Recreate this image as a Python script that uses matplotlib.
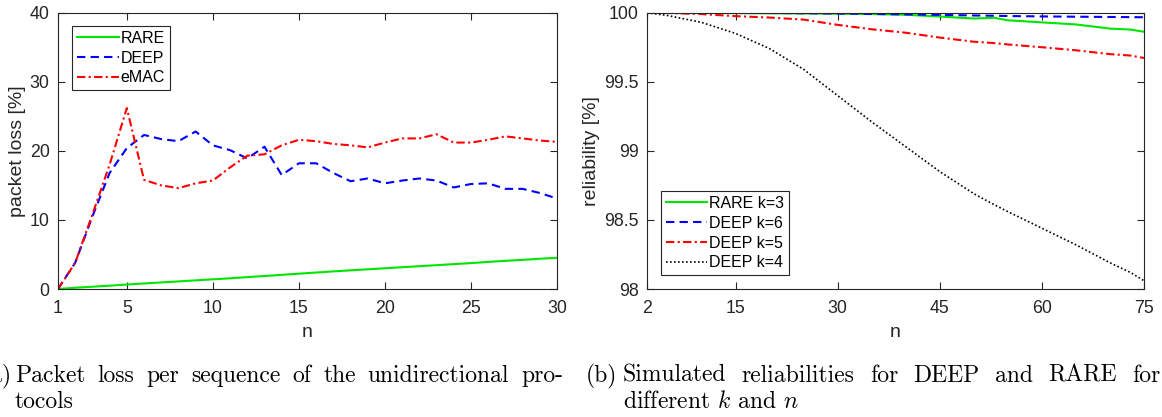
import matplotlib
matplotlib.use('Agg')
import matplotlib.pyplot as plt

plt.rcParams['font.family'] = ['Liberation Sans', 'DejaVu Sans']
plt.rcParams['mathtext.fontset'] = 'cm'
plt.rcParams['axes.unicode_minus'] = False

# ---- data: (a) packet loss per sequence ----
n_a = list(range(1, 31))
rare_a = [0, 0.18, 0.33, 0.48, 0.65, 0.8, 0.95, 1.1, 1.25, 1.4, 1.55, 1.72, 1.88, 2.05, 2.22,
          2.38, 2.55, 2.7, 2.85, 3.0, 3.15, 3.3, 3.45, 3.6, 3.75, 3.92, 4.08, 4.22, 4.38, 4.52]
deep_a = [0, 3.8, 10.5, 16.8, 20.4, 22.3, 21.7, 21.4, 22.8, 20.8, 20.1, 18.9, 20.6, 16.5, 18.2,
          18.2, 16.8, 15.6, 16.0, 15.3, 15.7, 16.0, 15.7, 14.7, 15.2, 15.3, 14.5, 14.5, 13.9, 13.1]
emac_a = [0, 3.8, 10.8, 18.0, 26.2, 15.8, 15.0, 14.6, 15.3, 15.7, 17.6, 19.3, 19.5, 20.8, 21.6,
          21.4, 21.0, 20.8, 20.5, 21.2, 21.8, 21.8, 22.4, 21.2, 21.2, 21.6, 22.1, 21.8, 21.5, 21.3]
labels_a = ['RARE', 'DEEP', 'eMAC']
xticks_a = [1, 5, 10, 15, 20, 25, 30]
yticks_a = [0, 10, 20, 30, 40]

# ---- data: (b) simulated reliabilities ----
n_b = [2, 5, 10, 15, 20, 25, 30, 35, 40, 45, 50, 53, 55, 60, 65, 70, 73, 75]
rare_k3 = [100, 100, 99.998, 99.997, 99.996, 99.995, 99.993, 99.99, 99.985, 99.972, 99.958,
           99.963, 99.945, 99.93, 99.915, 99.885, 99.878, 99.862]
deep_k6 = [100, 100, 100, 99.999, 99.998, 99.996, 99.994, 99.991, 99.988, 99.984, 99.98,
           99.978, 99.976, 99.973, 99.971, 99.969, 99.968, 99.967]
deep_k5 = [100, 99.998, 99.99, 99.975, 99.965, 99.95, 99.912, 99.88, 99.855, 99.82, 99.79,
           99.78, 99.77, 99.75, 99.728, 99.70, 99.69, 99.672]
deep_k4 = [100, 99.98, 99.93, 99.85, 99.74, 99.59, 99.40, 99.21, 99.03, 98.85, 98.69,
           98.61, 98.56, 98.44, 98.32, 98.19, 98.12, 98.06]
labels_b = ['RARE k=3', 'DEEP k=6', 'DEEP k=5', 'DEEP k=4']
xticks_b = [2, 15, 30, 45, 60, 75]
yticks_b = [98, 98.5, 99, 99.5, 100]
yticklabels_b = ['98', '98.5', '99', '99.5', '100']

GREEN, BLUE, RED, BLACK = '#00e600', '#0000ff', '#ff0000', '#000000'
AXC = '#262626'
DASH = (0, (4, 2.5))
DASHDOT = (0, (4, 1.6, 1, 1.6))
DOT = (0, (1, 1.4))
FS_TICK, FS_LABEL, FS_LEG = 12.8, 14, 11.5

W, H = 1162, 417
fig = plt.figure(figsize=(W / 100, H / 100), dpi=100)


def style_axes(ax):
    for s in ax.spines.values():
        s.set_color(AXC)
        s.set_linewidth(0.8)
    ax.tick_params(direction='in', length=5, width=0.8, colors=AXC, labelsize=FS_TICK,
                   top=True, right=True)
    ax.tick_params(axis='x', pad=8)
    ax.tick_params(axis='y', pad=6)


def legend(ax, anchor, loc):
    leg = ax.legend(loc=loc, bbox_to_anchor=anchor, borderaxespad=0,
                    fontsize=FS_LEG, handlelength=2.6, handletextpad=0.1, labelspacing=0.3,
                    borderpad=0.3, fancybox=False, framealpha=1, edgecolor=AXC)
    leg.get_frame().set_linewidth(0.8)


# ============ (a) ============
ax1 = fig.add_axes([58 / W, 1 - 289 / H, (557 - 58) / W, (289 - 12.7) / H])
ax1.plot(n_a, rare_a, color=GREEN, lw=1.5, label=labels_a[0])
ax1.plot(n_a, deep_a, color=BLUE, lw=1.5, linestyle=DASH, label=labels_a[1])
ax1.plot(n_a, emac_a, color=RED, lw=1.5, linestyle=DASHDOT, label=labels_a[2])
ax1.set_xlim(1, 30)
ax1.set_ylim(0, 40)
ax1.set_xticks(xticks_a)
ax1.set_yticks(yticks_a)
ax1.set_xlabel('n', fontsize=FS_LABEL, color=AXC, labelpad=5)
ax1.set_ylabel('packet loss [%]', fontsize=FS_LABEL, color=AXC, labelpad=3)
style_axes(ax1)
legend(ax1, (0.029, 0.952), 'upper left')

# ============ (b) ============
ax2 = fig.add_axes([647 / W, 1 - 289 / H, (1144 - 647) / W, (289 - 12.7) / H])
ax2.plot(n_b, rare_k3, color=GREEN, lw=1.5, label=labels_b[0])
ax2.plot(n_b, deep_k6, color=BLUE, lw=1.5, linestyle=DASH, label=labels_b[1])
ax2.plot(n_b, deep_k5, color=RED, lw=1.5, linestyle=DASHDOT, label=labels_b[2])
ax2.plot(n_b, deep_k4, color=BLACK, lw=1.2, linestyle=DOT, label=labels_b[3])
ax2.set_xlim(2, 75)
ax2.set_ylim(98, 100)
ax2.set_xticks(xticks_b)
ax2.set_yticks(yticks_b)
ax2.set_yticklabels(yticklabels_b)
ax2.set_xlabel('n', fontsize=FS_LABEL, color=AXC, labelpad=5)
ax2.set_ylabel('reliability [%]', fontsize=FS_LABEL, color=AXC, labelpad=3)
style_axes(ax2)
legend(ax2, (0.0285, 0.05), 'lower left')

# ============ captions (LaTeX-like, first line justified) ============
cap = dict(fontfamily='cmr10', fontsize=17, va='baseline', color='black')
renderer = fig.canvas.get_renderer()


def justified(words, x0, x1, y):
    texts = [fig.text(0, y, w, ha='left', **cap) for w in words]
    widths = [t.get_window_extent(renderer).width for t in texts]
    gap = (x1 - x0 - sum(widths)) / (len(words) - 1)
    x = x0
    for t, w in zip(texts, widths):
        t.set_x(x / W)
        x += w + gap


y1, y2 = 1 - 382 / H, 1 - 408 / H
fig.text(12 / W, y1, '(a)', ha='right', **cap)
justified('Packet loss per sequence of the unidirectional pro-'.split(), 15, 563, y1)
fig.text(15 / W, y2, 'tocols', ha='left', **cap)
fig.text(617 / W, y1, '(b)', ha='right', **cap)
justified('Simulated reliabilities for DEEP and RARE for'.split(), 623, 1160, y1)
fig.text(623 / W, y2, r'different $k$ and $n$', ha='left', **cap)

fig.savefig('out.png', dpi=100)
